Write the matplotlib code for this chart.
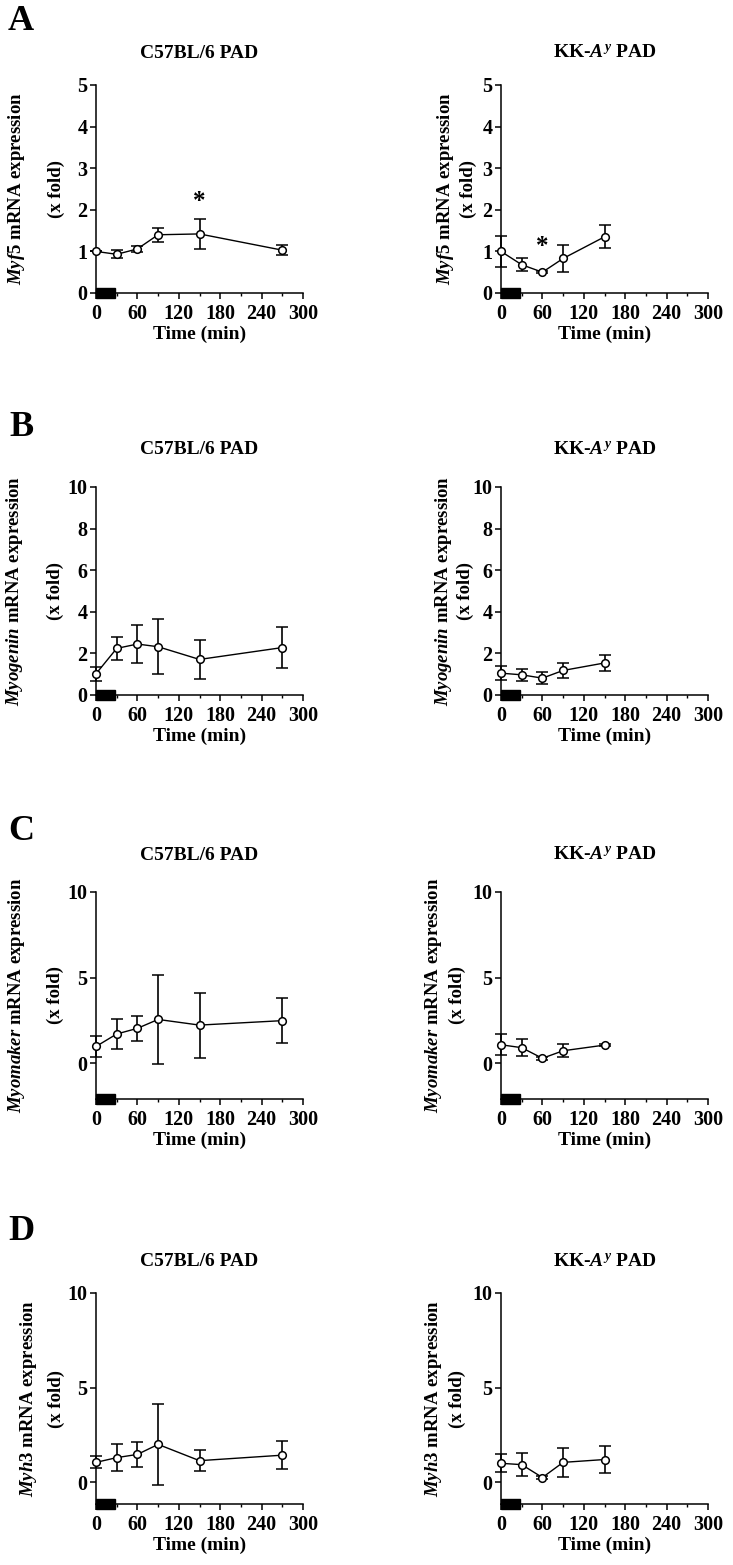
import matplotlib
matplotlib.use("Agg")
import matplotlib.pyplot as plt
from matplotlib.ticker import MultipleLocator
from matplotlib.patches import Rectangle

plt.rcParams['font.family'] = ['Liberation Serif', 'DejaVu Serif']
plt.rcParams['font.weight'] = 'bold'
plt.rcParams['mathtext.fontset'] = 'custom'
plt.rcParams['mathtext.rm'] = 'Liberation Serif:bold'
plt.rcParams['mathtext.it'] = 'Liberation Serif:italic:bold'
plt.rcParams['mathtext.bf'] = 'Liberation Serif:bold'

# time points (min)
times_b6 = [0, 30, 60, 90, 150, 270]
times_kk = [0, 30, 60, 90, 150]

# Myf5
myf5_b6 = [1.0, 0.93, 1.06, 1.40, 1.42, 1.03]
myf5_b6_err = [0.0, 0.10, 0.08, 0.17, 0.37, 0.12]
myf5_kk = [1.0, 0.68, 0.50, 0.83, 1.35]
myf5_kk_err = [0.38, 0.15, 0.03, 0.33, 0.28]

# Myogenin
myog_b6 = [1.02, 2.24, 2.45, 2.32, 1.71, 2.28]
myog_b6_err = [0.35, 0.57, 0.90, 1.32, 0.95, 0.98]
myog_kk = [1.05, 0.97, 0.81, 1.18, 1.54]
myog_kk_err = [0.33, 0.30, 0.30, 0.38, 0.37]

# Myomaker
myom_b6 = [0.97, 1.70, 2.03, 2.55, 2.22, 2.48]
myom_b6_err = [0.63, 0.90, 0.73, 2.60, 1.90, 1.30]
myom_kk = [1.07, 0.90, 0.28, 0.72, 1.05]
myom_kk_err = [0.62, 0.50, 0.08, 0.38, 0.05]

# Myh3
myh3_b6 = [1.05, 1.30, 1.47, 2.00, 1.14, 1.43]
myh3_b6_err = [0.32, 0.72, 0.68, 2.15, 0.55, 0.75]
myh3_kk = [1.00, 0.93, 0.25, 1.05, 1.20]
myh3_kk_err = [0.48, 0.60, 0.08, 0.75, 0.70]

genes = ['Myf5', 'Myogenin', 'Myomaker', 'Myh3']
letters = ['A', 'B', 'C', 'D']
ylims = [(0, 5), (0, 10), (-2.1, 10), (-1.15, 10)]
yticks = [[0, 1, 2, 3, 4, 5], [0, 2, 4, 6, 8, 10], [0, 5, 10], [0, 5, 10]]
b6_data = [(myf5_b6, myf5_b6_err), (myog_b6, myog_b6_err),
           (myom_b6, myom_b6_err), (myh3_b6, myh3_b6_err)]
kk_data = [(myf5_kk, myf5_kk_err), (myog_kk, myog_kk_err),
           (myom_kk, myom_kk_err), (myh3_kk, myh3_kk_err)]
# significance marks: (row, column, time, y)
stars = [(0, 0, 150, 1.93), (0, 1, 60, 0.84)]
bar_end = 27  # exercise period, min

W, H = 733, 1565
fig = plt.figure(figsize=(W / 100, H / 100), dpi=100)

# pixel layout of the panels
rows_px = [(85, 293), (487, 695), (892, 1099), (1293, 1504)]
cols_px = [(96, 303), (501, 708)]
title_y = [53, 450, 855, 1262]
letter_y = [22, 428, 832, 1232]
ylab_x = [[(17, 56), (445, 468)], [(15, 55), (443, 465)],
          [(17, 55), (433, 457)], [(29, 56), (433, 457)]]
titles = ['C57BL/6 PAD', r'KK-$\mathit{A}^{\mathit{y}}$ PAD']

axes = {}
for r in range(4):
    top, bot = rows_px[r]
    for c in range(2):
        l, rgt = cols_px[c]
        ax = fig.add_axes([l / W, 1 - bot / H, (rgt - l) / W, (bot - top) / H])
        axes[(r, c)] = ax
        t = times_b6 if c == 0 else times_kk
        y, e = b6_data[r] if c == 0 else kk_data[r]
        ax.errorbar(t, y, yerr=e, color='black', lw=1.0, elinewidth=1.2,
                    capsize=4.5, capthick=1.2, marker='o', ms=5.5,
                    mfc='white', mec='black', mew=1.1, zorder=3, clip_on=False)
        ax.set_xlim(0, 300)
        ax.set_ylim(*ylims[r])
        ax.set_yticks(yticks[r])
        ax.xaxis.set_major_locator(MultipleLocator(60))
        ax.xaxis.set_minor_locator(MultipleLocator(30))
        for s in ['top', 'right']:
            ax.spines[s].set_visible(False)
        for s in ['left', 'bottom']:
            ax.spines[s].set_linewidth(1.1)
        ax.tick_params(axis='both', which='major', direction='out', length=4,
                       width=1.1, labelsize=14.5, pad=2)
        ax.tick_params(axis='x', which='major', pad=4)
        ax.tick_params(axis='x', which='minor', direction='out', length=2.5, width=1.0)
        for lab in ax.get_xticklabels() + ax.get_yticklabels():
            lab.set_fontweight('bold')
        ax.set_xlabel('Time (min)', fontsize=14, fontweight='bold', labelpad=1)
        # black bar for exercise period, sitting on the x axis
        ax.add_patch(Rectangle((0, -0.024), bar_end, 0.048,
                               transform=ax.get_xaxis_transform(),
                               facecolor='black', edgecolor='black',
                               clip_on=False, zorder=5))
        fig.text((l + rgt) / 2 / W, 1 - title_y[r] / H, titles[c],
                 ha='center', va='center', fontsize=14, fontweight='bold')
        yc = 1 - (top + bot) / 2 / H
        x1, x2 = ylab_x[r][c]
        fig.text(x1 / W, yc, r'$\mathit{%s}$ mRNA expression' % genes[r],
                 rotation=90, ha='center', va='center', fontsize=13.5,
                 fontweight='bold')
        fig.text(x2 / W, yc, '(x fold)', rotation=90, ha='center',
                 va='center', fontsize=13.5, fontweight='bold')
    fig.text(21 / W, 1 - letter_y[r] / H, letters[r], ha='center', va='center',
             fontsize=26, fontweight='bold')

for r, c, t, yv in stars:
    axes[(r, c)].text(t, yv, '*', ha='center', va='bottom', fontsize=18,
                      fontweight='bold')

fig.savefig('out.png', dpi=100)
